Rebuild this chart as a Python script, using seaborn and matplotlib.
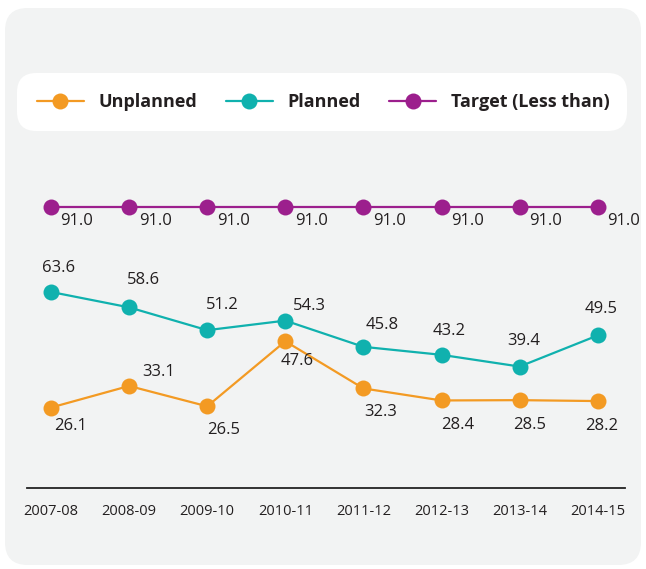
import matplotlib
matplotlib.use("Agg")
import matplotlib.pyplot as plt
from matplotlib.patches import FancyBboxPatch
from matplotlib.lines import Line2D
import seaborn as sns

# data
years = ["2007-08", "2008-09", "2009-10", "2010-11",
         "2011-12", "2012-13", "2013-14", "2014-15"]
unplanned = [26.1, 33.1, 26.5, 47.6, 32.3, 28.4, 28.5, 28.2]
planned = [63.6, 58.6, 51.2, 54.3, 45.8, 43.2, 39.4, 49.5]
target = [91.0, 91.0, 91.0, 91.0, 91.0, 91.0, 91.0, 91.0]

ORANGE = "#f39a23"
TEAL = "#10b1ae"
PURPLE = "#9c1f8d"
TEXT = "#231f20"
PANEL = "#f2f3f3"

sns.set_style("white")
plt.rcParams["font.family"] = ["Open Sans", "DejaVu Sans"]

fig = plt.figure(figsize=(6.46, 5.69), dpi=100)
fig.patch.set_facecolor("white")

# rounded grey panel behind everything
W, H = 646, 569
panel = FancyBboxPatch(
    (5 / W, 4 / H), 636 / W, 557 / H,
    boxstyle="round,pad=0,rounding_size=0.035",
    transform=fig.transFigure, facecolor=PANEL, edgecolor="none",
    mutation_aspect=W / H, zorder=-2,
)
fig.patches.append(panel)

# white rounded legend box
legbox = FancyBboxPatch(
    (17 / W, 1 - 131 / H), 610 / W, 58 / H,
    boxstyle="round,pad=0,rounding_size=0.03",
    transform=fig.transFigure, facecolor="white", edgecolor="none",
    mutation_aspect=W / H, zorder=-1,
)
fig.patches.append(legbox)

ax = fig.add_axes([27 / W, 81 / H, 598 / W, 299 / H])
ax.set_facecolor("none")
ax.set_zorder(2)

x = list(range(len(years)))
series = [
    ("Unplanned", unplanned, ORANGE),
    ("Planned", planned, TEAL),
    ("Target (Less than)", target, PURPLE),
]
for name, vals, col in series:
    sns.lineplot(x=x, y=vals, ax=ax, color=col, linewidth=1.6,
                 marker="o", markersize=11.5, markeredgewidth=0,
                 legend=False)

# label offsets in pixels (dx, dy)
t_off = [(26, -14)] * 8
p_off = [(8, 24), (14, 27), (15, 25), (24, 15), (19, 22), (8, 24), (4, 26), (3, 26)]
u_off = [(20, -18), (30, 14), (16, -24), (12, -20), (17, -24), (16, -25), (10, -25), (4, -25)]
for vals, offs in [(target, t_off), (planned, p_off), (unplanned, u_off)]:
    for xi, v, (dx, dy) in zip(x, vals, offs):
        ax.annotate(f"{v:.1f}", (xi, v), xytext=(dx, dy),
                    textcoords="offset pixels", ha="center", va="center",
                    fontsize=12, color=TEXT)

ax.set_xlim(-0.307, 7.349)
ax.set_ylim(0, 97)
ax.set_xticks(x)
ax.set_xticklabels(years, fontsize=10.5, color=TEXT)
ax.set_yticks([])
ax.tick_params(axis="x", length=0, pad=11.5)
for s in ["left", "right", "top"]:
    ax.spines[s].set_visible(False)
ax.spines["bottom"].set_color("#222222")
ax.spines["bottom"].set_linewidth(1.3)
ax.set_xlabel("")
ax.set_ylabel("")

handles = [Line2D([0], [0], color=c, linewidth=1.6, marker="o",
                  markersize=11.5, markeredgewidth=0) for _, _, c in series]
leg = fig.legend(handles, [n for n, _, _ in series], loc="center",
                 bbox_to_anchor=(323 / W, 1 - 102 / H), ncol=3,
                 frameon=False, handlelength=2.6, handletextpad=0.8,
                 columnspacing=1.6, prop={"weight": "bold", "size": 13})
leg.set_zorder(3)
for t in leg.get_texts():
    t.set_color(TEXT)

fig.savefig("out.png", dpi=100, facecolor="white")
